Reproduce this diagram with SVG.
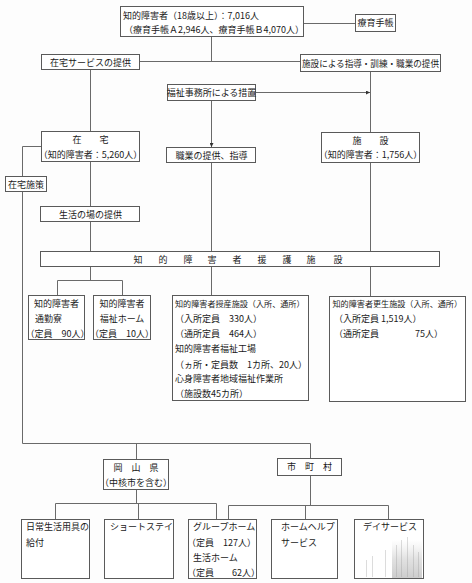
<svg xmlns="http://www.w3.org/2000/svg" width="472" height="583" viewBox="0 0 472 583">
<defs>
<style>
.box{fill:#fff;stroke:#5a5a5a;stroke-width:1}
.ln{stroke:#6a6a6a;stroke-width:1;fill:none}
.t{font-family:"Noto Sans CJK JP","Noto Sans CJK SC",sans-serif;font-size:9px;fill:#1a1a1a}
.s{font-size:8.1px}
.c{text-anchor:middle}
.sh{stroke:#9a9a9a;stroke-width:1}
</style>
<marker id="ah" viewBox="0 0 6 6" refX="6" refY="3" markerWidth="4" markerHeight="4" orient="auto" markerUnits="userSpaceOnUse">
<path d="M0,0 L6,3 L0,6 z" fill="#333"/>
</marker>
<linearGradient id="shade" x1="0" y1="0" x2="0" y2="1">
<stop offset="0" stop-color="#bbb" stop-opacity="0"/>
<stop offset="0.5" stop-color="#aaa" stop-opacity="0.35"/>
<stop offset="1" stop-color="#999" stop-opacity="0.5"/>
</linearGradient>
</defs>
<rect x="0" y="0" width="472" height="583" fill="#fdfdfd"/>

<g id="connectors">
<path class="ln" d="M303,23.5 H355"/>
<path class="ln" d="M211.5,36 V61.5"/>
<path class="ln" d="M139,61.5 H300"/>
<path class="ln" d="M90.5,69 V131"/>
<path class="ln" d="M370.5,71 V132"/>
<path class="ln" d="M255,92.5 H370" marker-end="url(#ah)"/>
<path class="ln" d="M211.5,100 V147" marker-end="url(#ah)"/>
<path class="ln" d="M41,146.5 H22.5 V176"/>
<path class="ln" d="M22.5,191 V443.5 H310.5 V458"/>
<path class="ln" d="M136.5,443.5 V459"/>
<path class="ln" d="M90.5,161 V206"/>
<path class="ln" d="M90.5,221 V251"/>
<path class="ln" d="M211.5,162 V251"/>
<path class="ln" d="M370.5,162 V251"/>
<path class="ln" d="M90.5,266 V280.5"/>
<path class="ln" d="M57.5,295 V280.5 H122.5 V295"/>
<path class="ln" d="M211.5,266 V295"/>
<path class="ln" d="M370.5,266 V296"/>
<path class="ln" d="M136.5,489 V503.5"/>
<path class="ln" d="M55.5,519 V503.5 H216.5 V519"/>
<path class="ln" d="M138.5,503.5 V519"/>
<path class="ln" d="M310.5,475 V505.5"/>
<path class="ln" d="M228.5,519 V505.5 H388.5 V519"/>
<path class="ln" d="M305.5,505.5 V519"/>
</g>

<g id="n-top">
<rect class="box" x="120.5" y="6.5" width="183" height="30"/>
<text class="t" x="123" y="19">知的障害者（18歳以上）：7,016人</text>
<text class="t" x="124" y="32.5">（療育手帳Ａ2,946人、療育手帳Ｂ4,070人）</text>
</g>
<g id="n-techo">
<rect class="box" x="355.5" y="14.5" width="40" height="17"/>
<text class="t c" x="375.5" y="26">療育手帳</text>
</g>
<g id="n-zaitaku-service">
<rect class="box" x="41.5" y="54.5" width="98" height="15"/>
<text class="t c" x="90.5" y="65.5">在宅サービスの提供</text>
</g>
<g id="n-shisetsu-shido">
<rect class="box" x="300.5" y="54.5" width="140" height="17"/>
<text class="t" x="302" y="66.5" textLength="137" lengthAdjust="spacingAndGlyphs">施設による指導・訓練・職業の提供</text>
</g>
<g id="n-fukushi">
<rect class="box" x="167.5" y="84.5" width="88" height="16"/>
<text class="t c" x="211.5" y="95.5">福祉事務所による措置</text>
</g>
<g id="n-zaitaku">
<rect class="box" x="41.5" y="131.5" width="98" height="30"/>
<text class="t c" x="90.5" y="143">在　　宅</text>
<text class="t c" x="90.5" y="157.5">（知的障害者：5,260人）</text>
</g>
<g id="n-shokugyo">
<rect class="box" x="166.5" y="147.5" width="89" height="15"/>
<text class="t c" x="211.5" y="158.5">職業の提供、指導</text>
</g>
<g id="n-shisetsu">
<rect class="box" x="321.5" y="132.5" width="98" height="30"/>
<text class="t c" x="370.5" y="144">施　　設</text>
<text class="t c" x="370.5" y="158">（知的障害者：1,756人）</text>
</g>
<g id="n-zaitaku-shisaku">
<rect class="box" x="5.5" y="176.5" width="41" height="15"/>
<text class="t c" x="26" y="187.5">在宅施策</text>
</g>
<g id="n-seikatsu">
<rect class="box" x="40.5" y="206.5" width="99" height="15"/>
<text class="t c" x="90.5" y="217.5">生活の場の提供</text>
</g>
<g id="n-engo">
<rect class="box" x="40.5" y="251.5" width="399" height="15"/>
<text class="t c" x="138 163 188 212 237 262 287 311 338" y="262.5">知的障害者援護施設</text>
</g>
<g id="n-tsukinryo">
<rect class="box" x="28.5" y="295.5" width="56" height="44"/>
<text class="t" x="34" y="307">知的障害者</text>
<text class="t" x="35" y="322">通勤寮</text>
<text class="t" x="25.5" y="337">（定員　90人）</text>
</g>
<g id="n-fukushi-home">
<rect class="box" x="93.5" y="295.5" width="57" height="44"/>
<text class="t c" x="122" y="307">知的障害者</text>
<text class="t c" x="122" y="322">福祉ホーム</text>
<text class="t c" x="122" y="337">（定員　10人）</text>
</g>
<g id="n-jusan">
<rect class="box" x="172.5" y="295.5" width="136" height="105"/>
<text class="t s" x="175" y="307">知的障害者授産施設（入所、通所）</text>
<text class="t" x="175" y="322">（入所定員　330人）</text>
<text class="t" x="175" y="337">（通所定員　464人）</text>
<text class="t" x="175" y="352">知的障害者福祉工場</text>
<text class="t" x="175" y="367.5">（ヵ所・定員数　1カ所、20人）</text>
<text class="t" x="175" y="382">心身障害者地域福祉作業所</text>
<text class="t" x="175" y="397">（施設数45カ所）</text>
</g>
<g id="n-kosei">
<rect class="box" x="329.5" y="296.5" width="136" height="105"/>
<text class="t s" x="332.5" y="307">知的障害者更生施設（入所、通所）</text>
<text class="t" x="334" y="322">（入所定員 1,519人）</text>
<text class="t" x="334" y="337">（通所定員　　　　75人）</text>
</g>
<g id="n-okayama">
<rect class="box" x="103.5" y="459.5" width="65" height="30"/>
<text class="t c" x="136" y="471">岡　山　県</text>
<text class="t c" x="136" y="486">（中核市を含む）</text>
</g>
<g id="n-shichoson">
<rect class="box" x="277.5" y="458.5" width="64" height="17"/>
<text class="t c" x="309.5" y="470">市　町　村</text>
</g>
<g id="n-nichijo">
<rect class="box" x="21.5" y="519.5" width="68" height="59"/>
<text class="t" x="26" y="530">日常生活用具の</text>
<text class="t" x="26" y="545.5">給付</text>
</g>
<g id="n-short">
<rect class="box" x="104.5" y="519.5" width="69" height="59"/>
<text class="t" x="110" y="530">ショートステイ</text>
</g>
<g id="n-group">
<rect class="box" x="188.5" y="519.5" width="68" height="59"/>
<text class="t" x="193" y="530">グループホーム</text>
<text class="t" x="187" y="545.5">（定員　127人）</text>
<text class="t" x="193" y="561">生活ホーム</text>
<text class="t" x="187" y="576">（定員　　62人）</text>
</g>
<g id="n-homehelp">
<rect class="box" x="271.5" y="519.5" width="66" height="59"/>
<text class="t" x="281" y="530">ホームヘルプ</text>
<text class="t" x="281" y="545.5">サービス</text>
</g>
<g id="n-day">
<rect class="box" x="354.5" y="519.5" width="69" height="59"/>
<rect x="392" y="540" width="30" height="38" fill="url(#shade)"/>
<path class="sh" d="M366.5,560 V577 M372.5,556 V577 M385.5,550 V577 M396.5,545 V577 M401.5,540 V577 M407.5,537 V577 M413.5,545 V577 M418.5,552 V577" stroke-opacity="0.35"/>
<text class="t" x="363" y="530">デイサービス</text>
</g>
</svg>
